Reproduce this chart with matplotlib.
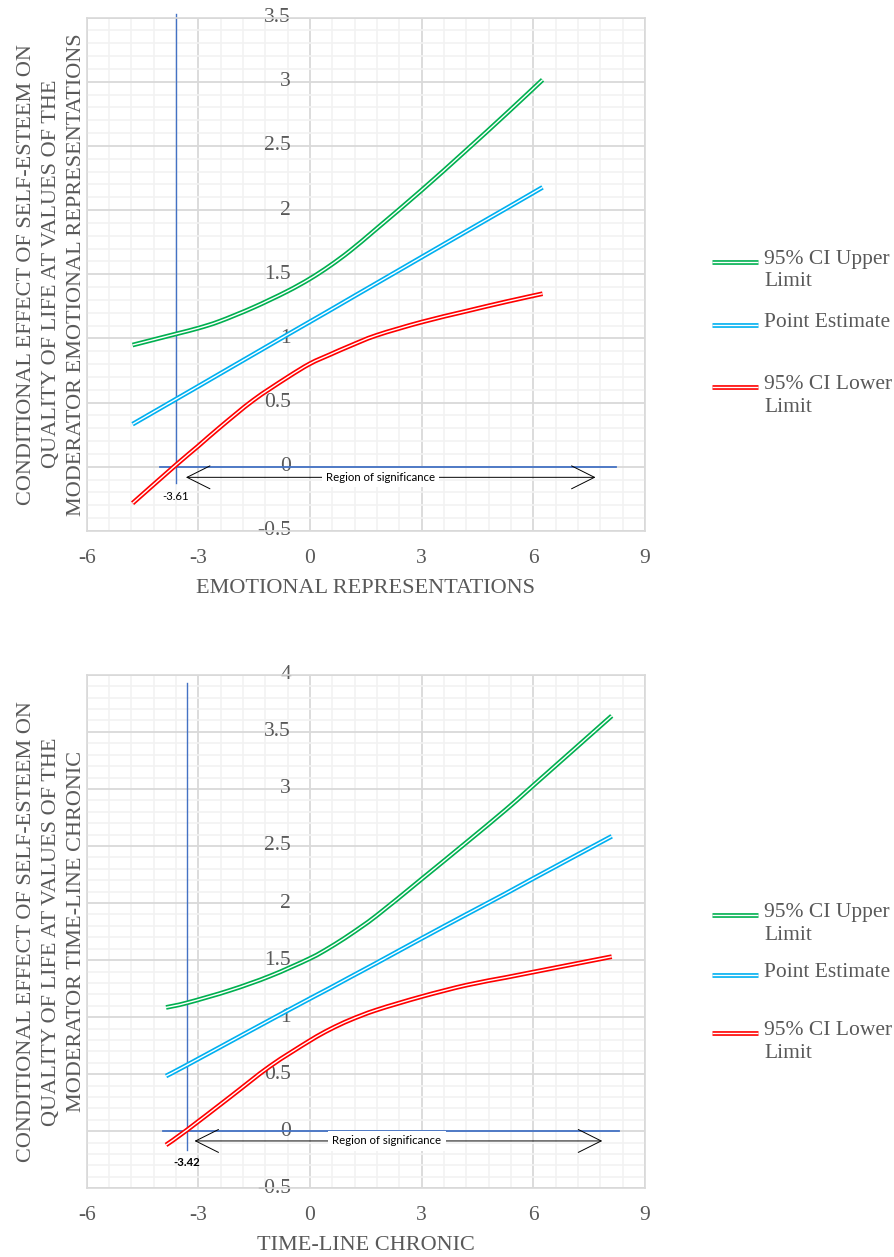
import matplotlib.pyplot as plt
import matplotlib.transforms as mtransforms
from matplotlib.lines import Line2D
from matplotlib.patches import PathPatch
from matplotlib.path import Path
from matplotlib.ticker import MultipleLocator

plt.rcParams['font.family'] = ['Liberation Serif', 'DejaVu Serif']

# -----------------------------
# data
# -----------------------------
# panel 1: moderator = emotional representations
emo_x = [-4.77, -3.61, -3.0, -2.43, -1.53, -0.63, 0.0, 0.54, 1.08, 1.79, 3.0, 4.2, 5.28, 6.25]
emo_upper = [0.948, 1.034, 1.08, 1.133, 1.24, 1.364, 1.465, 1.567, 1.683, 1.855, 2.155, 2.466, 2.752, 3.015]
emo_point = [0.331, 0.525, 0.627, 0.723, 0.874, 1.025, 1.13, 1.22, 1.311, 1.43, 1.633, 1.834, 2.014, 2.177]
emo_lower = [-0.285, 0.012, 0.162, 0.305, 0.517, 0.692, 0.803, 0.874, 0.942, 1.024, 1.127, 1.212, 1.286, 1.348]
emo_jn_x = -3.61
emo_jn_label = "-3.61"

# panel 2: moderator = time-line chronic
tl_x = [-3.87, -3.31, -2.15, -1.075, 0.0, 0.536, 1.075, 1.79, 3.0, 4.2, 5.27, 6.0, 8.11]
tl_upper = [1.085, 1.125, 1.235, 1.36, 1.515, 1.612, 1.724, 1.89, 2.21, 2.53, 2.82, 3.03, 3.64]
tl_point = [0.484, 0.58, 0.785, 0.975, 1.163, 1.255, 1.35, 1.475, 1.69, 1.90, 2.085, 2.215, 2.585]
tl_lower = [-0.12, 0.01, 0.30, 0.57, 0.795, 0.893, 0.975, 1.063, 1.18, 1.28, 1.348, 1.395, 1.53]
tl_jn_x = -3.31
tl_jn_label = "-3.42"

series_names = ["95% CI Upper\nLimit", "Point Estimate", "95% CI Lower\nLimit"]
series_colors = ["#00B050", "#00B0F0", "#FF0000"]

x_ticks = [-6, -3, 0, 3, 6, 9]
emo_y_ticks = [-0.5, 0, 0.5, 1, 1.5, 2, 2.5, 3, 3.5]
tl_y_ticks = [-0.5, 0, 0.5, 1, 1.5, 2, 2.5, 3, 3.5, 4]

TXT = "#595959"
REF = "#4472C4"
FS = 15.5
W, H = 894, 1257


def smooth_path(x, y):
    # Excel-style smoothed line: cubic bezier segments through the points
    pts = list(zip(x, y))
    n = len(pts)
    verts = [pts[0]]
    codes = [Path.MOVETO]
    for i in range(n - 1):
        p0 = pts[i - 1] if i > 0 else pts[i]
        p1, p2 = pts[i], pts[i + 1]
        p3 = pts[i + 2] if i + 2 < n else pts[i + 1]
        c1 = (p1[0] + (p2[0] - p0[0]) / 6, p1[1] + (p2[1] - p0[1]) / 6)
        c2 = (p2[0] - (p3[0] - p1[0]) / 6, p2[1] - (p3[1] - p1[1]) / 6)
        verts += [c1, c2, p2]
        codes += [Path.CURVE4] * 3
    return Path(verts, codes)


def double_line(ax, x, y, color):
    path = smooth_path(x, y)
    ax.add_patch(PathPatch(path, fill=False, edgecolor=color, lw=3.4,
                           capstyle="butt", zorder=3))
    ax.add_patch(PathPatch(path, fill=False, edgecolor="white", lw=1.0,
                           capstyle="butt", zorder=3))


def draw_panel(ax, x, upper, point, lower, y_ticks, jn_x, jn_label, jn_bold,
               zero_span, jn_span, arrow_span, arrow_y, label_y, region_x,
               xlabel, ylabel):
    ax.set_xlim(-6, 9)
    ax.set_ylim(y_ticks[0], y_ticks[-1])
    ax.xaxis.set_major_locator(MultipleLocator(3))
    ax.xaxis.set_minor_locator(MultipleLocator(0.6))
    ax.yaxis.set_major_locator(MultipleLocator(0.5))
    ax.yaxis.set_minor_locator(MultipleLocator(0.1))
    ax.grid(which="minor", color="#F2F2F2", lw=1.2, zorder=0)
    ax.grid(which="major", color="#D9D9D9", lw=1.3, zorder=0)
    ax.set_axisbelow(True)
    ax.tick_params(which="both", length=0)
    ax.tick_params(axis="x", labelsize=FS, labelcolor=TXT, pad=13)
    ax.set_xticks(x_ticks)
    ax.set_xticklabels([f"{t:g}" for t in x_ticks])
    ax.set_yticklabels([])
    for s in ax.spines.values():
        s.set_color("#D9D9D9")
        s.set_linewidth(1.2)

    # y tick labels sit next to the x = 0 axis, inside the plot
    off = ax.transData + mtransforms.ScaledTranslation(-0.19, 0, ax.figure.dpi_scale_trans)
    for t in y_ticks:
        ax.text(0, t, f"{t:g}", transform=off, ha="right", va="center",
                fontsize=FS, color=TXT, zorder=1)

    # reference lines
    ax.plot(zero_span, [0, 0], color=REF, lw=1.3, zorder=2)
    ax.plot([jn_x, jn_x], jn_span, color=REF, lw=1.0, zorder=2, clip_on=False)

    for y, c in zip([upper, point, lower], series_colors):
        double_line(ax, x, y, c)

    # region of significance arrow
    ax.annotate("", xy=(arrow_span[1], arrow_y), xytext=(arrow_span[0], arrow_y),
                arrowprops=dict(arrowstyle="<->,head_length=1.1,head_width=0.55",
                                lw=0.7, color="black", mutation_scale=15),
                zorder=4)
    ax.text(region_x, arrow_y, "Region of significance", family="Lato",
            fontsize=8.2, ha="center", va="center", color="black", zorder=5,
            bbox=dict(facecolor="white", edgecolor="none", pad=3))
    ax.text(jn_x, label_y, jn_label, family="Lato", fontsize=8.2,
            fontweight="bold" if jn_bold else "normal",
            ha="center", va="center", color="black", zorder=5)

    ax.set_xlabel(xlabel, fontsize=FS + 0.5, color=TXT, labelpad=8)
    ax.set_ylabel(ylabel, fontsize=FS + 0.5, color=TXT, linespacing=1.42, labelpad=-3)


def draw_legend(fig, ys):
    # ys: pixel rows (from top) of the legend handles
    for y, name, c in zip(ys, series_names, series_colors):
        fy = 1 - y / H
        fig.add_artist(Line2D([712 / W, 758 / W], [fy, fy], color=c, lw=3.4,
                              solid_capstyle="butt"))
        fig.add_artist(Line2D([712 / W, 758 / W], [fy, fy], color="white", lw=1.0,
                              solid_capstyle="butt"))
        fig.text(764 / W, 1 - (y - 12) / H, name, ha="left", va="top",
                 fontsize=FS, color=TXT, linespacing=1.25)


fig = plt.figure(figsize=(W / 100, H / 100), dpi=100)

ax1 = fig.add_axes([0.0971, 0.5777, 0.6242, 0.4083])
draw_panel(ax1, emo_x, emo_upper, emo_point, emo_lower, emo_y_ticks,
           emo_jn_x, emo_jn_label, False,
           zero_span=[-4.03, 8.23], jn_span=[3.53, -0.13],
           arrow_span=[-3.41, 7.75], arrow_y=-0.083, label_y=-0.23, region_x=1.9,
           xlabel="EMOTIONAL REPRESENTATIONS",
           ylabel="CONDITIONAL EFFECT OF SELF-ESTEEM ON\nQUALITY OF LIFE AT VALUES OF THE\nMODERATOR EMOTIONAL REPRESENTATIONS")
draw_legend(fig, [262, 325, 387])

ax2 = fig.add_axes([0.0971, 0.05465, 0.6242, 0.4085])
draw_panel(ax2, tl_x, tl_upper, tl_point, tl_lower, tl_y_ticks,
           tl_jn_x, tl_jn_label, True,
           zero_span=[-3.96, 8.30], jn_span=[3.93, -0.165],
           arrow_span=[-3.18, 7.93], arrow_y=-0.085, label_y=-0.27, region_x=2.07,
           xlabel="TIME-LINE CHRONIC",
           ylabel="CONDITIONAL EFFECT OF SELF-ESTEEM ON\nQUALITY OF LIFE AT VALUES OF THE\nMODERATOR TIME-LINE CHRONIC")
draw_legend(fig, [915, 975, 1033])

fig.savefig("out.png", dpi=100)
print("Saved: out.png")
